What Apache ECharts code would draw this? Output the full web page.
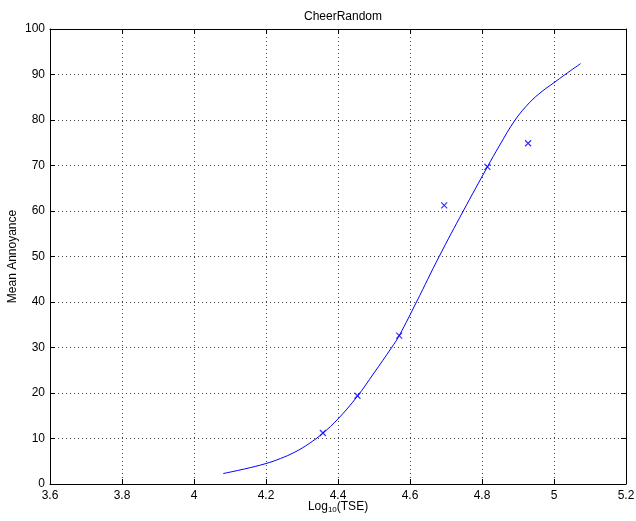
<!DOCTYPE html>
<html>
<head>
<meta charset="utf-8">
<script src="https://cdn.jsdelivr.net/npm/echarts@6/dist/echarts.min.js"></script>
<style>html,body{margin:0;padding:0;background:#fff;}#c{width:636px;height:521px;}</style>
</head>
<body>
<div id="c"></div>
<script>
const titleText = 'CheerRandom';
const xTicks = [3.6, 3.8, 4, 4.2, 4.4, 4.6, 4.8, 5, 5.2];
const yTicks = [0, 10, 20, 30, 40, 50, 60, 70, 80, 90, 100];
// measured points (x markers)
const pointX = [4.358, 4.454, 4.570, 4.695, 4.815, 4.928];
const pointY = [11.2, 19.4, 32.6, 61.25, 69.7, 74.9];
// fitted curve
const curveX = [4.081, 4.14, 4.2, 4.24, 4.28, 4.32, 4.357, 4.40, 4.453, 4.50, 4.549, 4.57, 4.618, 4.681, 4.748, 4.815, 4.848, 4.892, 4.933, 4.967, 5.0, 5.031, 5.074];
const curveY = [2.3, 3.3, 4.5, 5.6, 7.0, 8.9, 11.1, 14.3, 19.2, 24.4, 30.0, 32.6, 40.0, 50.0, 60.0, 69.7, 74.3, 80.0, 83.9, 86.3, 88.2, 90.0, 92.4];

const font = 'Liberation Sans, Arial, Helvetica, sans-serif';
const blue = '#0000ff';
const gridLine = {show: true, lineStyle: {color: '#444', type: [1, 3], width: 1}};
const axisLine = {show: true, onZero: false, lineStyle: {color: '#000', width: 1}};
const tick = {show: true, inside: true, length: 5, lineStyle: {color: '#000'}};

const chart = echarts.init(document.getElementById('c'));
chart.setOption({
  animation: false,
  backgroundColor: '#fff',
  title: {text: titleText, left: 338, textAlign: 'center', top: 6,
    textStyle: {fontFamily: font, fontSize: 12, fontWeight: 'normal', color: '#000'}},
  grid: {left: 50, right: 10, top: 29, bottom: 37, containLabel: false, outerBoundsMode: 'none'},
  xAxis: [{
    type: 'value', min: 3.6, max: 5.2, interval: 0.2,
    axisLine: axisLine, axisTick: tick, splitLine: gridLine,
    axisLabel: {fontFamily: font, fontSize: 12, color: '#000', margin: 6,
      formatter: v => { const r = Math.round(v * 10) / 10; return String(r); }},
    name: '{a|Log}{s|10}{a|(TSE)}', nameLocation: 'middle', nameGap: 16, nameMoveOverlap: false,
    nameTextStyle: {verticalAlign: 'top', rich: {a: {fontFamily: font, fontSize: 12, color: '#000'},
      s: {fontFamily: font, fontSize: 8, color: '#000', verticalAlign: 'bottom', padding: [6, 0, 0, 0]}}}
  }, {
    type: 'value', position: 'top', min: 3.6, max: 5.2, interval: 0.2,
    axisLine: axisLine, axisTick: tick, splitLine: {show: false}, axisLabel: {show: false}
  }],
  yAxis: [{
    type: 'value', min: 0, max: 100, interval: 10,
    axisLine: axisLine, axisTick: tick, splitLine: gridLine,
    axisLabel: {fontFamily: font, fontSize: 12, color: '#000', margin: 5},
    name: 'Mean Annoyance', nameLocation: 'middle', nameGap: 31, nameMoveOverlap: false,
    nameTextStyle: {fontFamily: font, fontSize: 12, color: '#000'}
  }, {
    type: 'value', position: 'right', min: 0, max: 100, interval: 10,
    axisLine: axisLine, axisTick: tick, splitLine: {show: false}, axisLabel: {show: false}
  }],
  series: [{
    type: 'line', xAxisIndex: 0, yAxisIndex: 0,
    data: curveX.map((x, i) => [x, curveY[i]]),
    smooth: 0.4, showSymbol: false, symbol: 'none',
    lineStyle: {color: blue, width: 1}
  }, {
    type: 'scatter', xAxisIndex: 0, yAxisIndex: 0,
    data: pointX.map((x, i) => [x, pointY[i]]),
    symbol: 'path://M0,0L10,10M10,0L0,10', symbolSize: 6,
    itemStyle: {color: 'rgba(0,0,0,0)', borderColor: blue, borderWidth: 1.2}
  }]
});
</script>
</body>
</html>
